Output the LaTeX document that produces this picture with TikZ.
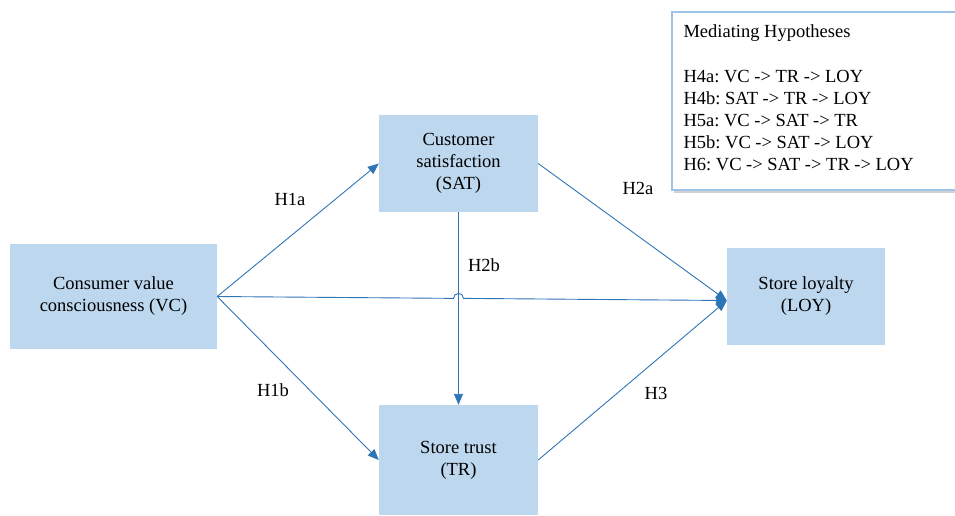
\documentclass[tikz,border=0pt]{standalone}
\usepackage{fontspec}
\setmainfont{Liberation Serif}
\usetikzlibrary{arrows.meta}
\definecolor{boxblue}{HTML}{BDD7EE}
\definecolor{linkblue}{HTML}{2E75B6}
\definecolor{frameblue}{HTML}{9DC3E6}
\frenchspacing
\begin{document}
\begin{tikzpicture}[x=1pt, y=-1pt,
		varbox/.style={fill=boxblue, draw=none, align=center, font=\fontsize{18.5}{22}\selectfont},
		hyp/.style={font=\fontsize{18.5}{22}\selectfont},
		link/.style={draw=linkblue, line width=0.9pt, -{Triangle[length=11pt, width=9pt]}}]

			\clip (0,0) rectangle (955,515);
			\useasboundingbox (0,0) rectangle (955,515);

			% Legend with the mediating hypotheses
			\fill[black!18] (674,15) rectangle (975,193);
			\draw[frameblue, line width=1.5pt, fill=white] (672,12) rectangle (972,190);
			\node[hyp, anchor=north west, align=left] (legend) at (680,21) {
					Mediating Hypotheses\\[23pt]
					H4a: VC -> TR -> LOY\\
					H4b: SAT -> TR -> LOY\\
					H5a: VC -> SAT -> TR\\
					H5b: VC -> SAT -> LOY\\
					H6: VC -> SAT -> TR -> LOY};

			% Constructs as blue boxes
			\node[varbox, minimum width=207pt, minimum height=105pt] (vc) at (113.5,296.5) {Consumer value\\consciousness (VC)};
			\node[varbox, minimum width=159pt, minimum height=97pt] (sat) at (458.5,163.5) {Customer\\satisfaction\\(SAT)};
			\node[varbox, minimum width=159pt, minimum height=110pt] (tr) at (458.5,460) {Store trust\\(TR)};
			\node[varbox, minimum width=158pt, minimum height=97pt] (loy) at (806,296.5) {Store loyalty\\(LOY)};

			% Direct paths
			\coordinate (loyin) at ([yshift=-4pt]loy.west);
			\foreach \from/\to in {vc.east/sat.west, vc.east/tr.west, sat.east/loyin, tr.east/loyin, sat.south/tr.north} {
					\draw[link] (\from) -- (\to);
				}

			% VC -> LOY hops over the SAT -> TR line
			\coordinate (hop) at (intersection of vc.east--loyin and sat.south--tr.north);
			\draw[link] (vc.east) -- ([xshift=-5pt]hop) arc[start angle=180, end angle=0, radius=5pt] -- (loyin);

			% Path labels
			\node[hyp] (h1a) at (290,199) {H1a};
			\node[hyp] (h1b) at (273,390) {H1b};
			\node[hyp] (h2a) at (638,188) {H2a};
			\node[hyp] (h2b) at (484,265) {H2b};
			\node[hyp] (h3) at (656,393) {H3};

		\end{tikzpicture}
\end{document}
